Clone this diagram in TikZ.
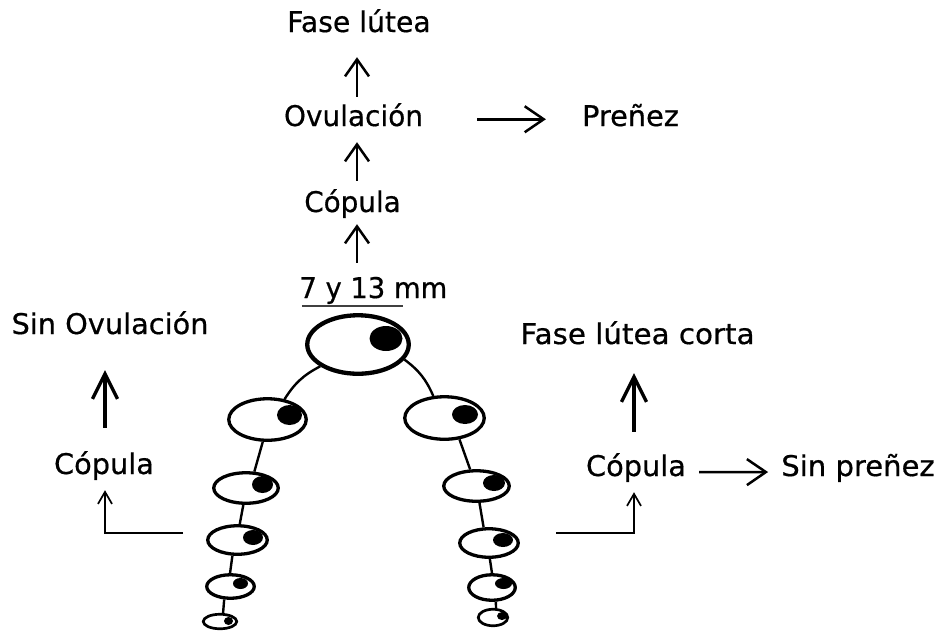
\documentclass[tikz,border=0pt]{standalone}
\usepackage{fontspec}
\setmainfont{DejaVu Sans}
\newfontfamily\lblfont{DejaVu Sans}[FakeBold=0.6]
\usetikzlibrary{shapes.geometric,arrows.meta}
\begin{document}
\begin{tikzpicture}[x=1pt,y=-1pt,
  lbl/.style={inner sep=0pt, anchor=base, text height=20.25pt, text depth=6.75pt,
              font=\lblfont\fontsize{28.5}{34}\selectfont},
  fol/.style={ellipse, draw, line width=3.3pt, fill=white, inner sep=0pt},
  bigfol/.style={fol, line width=4.3pt},
  dot/.style={ellipse, fill=black, inner sep=0pt},
  link/.style={line width=2.4pt},
  arr/.style={-{Straight Barb[length=17pt,width=24pt]}, line width=2.5pt},
  harr/.style={-{Straight Barb[length=19pt,width=26pt]}, line width=2.5pt},
  bigarr/.style={-{Straight Barb[length=25pt,width=25pt]}, line width=3.3pt},
  thinarr/.style={-{Straight Barb[length=12pt,width=14pt]}, line width=1.7pt},
  ul/.style={line width=2.6pt, black!75}]
\path[use as bounding box] (0,0) rectangle (941,633);

% ---- texts ----
\node[lbl] (fase)  at (359,32)    {\scalebox{0.99}[1]{Fase lútea}};
\node[lbl] (ovul)  at (353.5,126) {\scalebox{0.98}[1]{Ovulación}};
\node[lbl] (pren)  at (630.5,126) {\scalebox{1.01}[1]{Preñez}};
\node[lbl] (copC)  at (352.5,212) {\scalebox{0.975}[1]{Cópula}};
\node[lbl] (mm)    at (373.4,298) {\scalebox{0.96}[1]{7 y 13 mm}};
\node[lbl] (sinov) at (110,334)   {\scalebox{1.01}[1]{Sin Ovulación}};
\node[lbl] (copL)  at (104,474)   {\scalebox{1.01}[1]{Cópula}};
\node[lbl] (flc)   at (637.5,344) {\scalebox{1.03}[1]{Fase lútea corta}};
\node[lbl] (copR)  at (636,476)   {\scalebox{1.01}[1]{Cópula}};
\node[lbl] (sinp)  at (858,476)   {\scalebox{1.02}[1]{Sin preñez}};

% underline of the size range
\draw[ul] (mm.base west) ++(2.6,8) -- ++(101,0);

% ---- follicles ----
\node[bigfol, minimum width=101.5pt, minimum height=58.5pt] (big) at (358,344.5) {};
\node[fol, minimum width=77.5pt, minimum height=41.5pt] (L2) at (267.5,419.5) {};
\node[fol, minimum width=64.5pt, minimum height=30.5pt] (L3) at (246,488) {};
\node[fol, minimum width=59.5pt, minimum height=28.5pt] (L4) at (237.5,540) {};
\node[fol, minimum width=47.5pt, minimum height=23.5pt] (L5) at (230.5,586.5) {};
\node[fol, line width=2.7pt, minimum width=33.5pt, minimum height=14.5pt] (L6) at (220,621.5) {};
\node[fol, minimum width=79.5pt, minimum height=42.5pt] (R2) at (444.5,418) {};
\node[fol, minimum width=65.5pt, minimum height=30.5pt] (R3) at (476.5,486) {};
\node[fol, minimum width=58.5pt, minimum height=28.5pt] (R4) at (489,543) {};
\node[fol, minimum width=46.5pt, minimum height=25.5pt] (R5) at (492,587.5) {};
\node[fol, line width=2.7pt, minimum width=29.5pt, minimum height=16.5pt] (R6) at (493,617.5) {};

% oocytes
\node[dot, minimum width=33pt, minimum height=25pt] (dbig) at (386,338.5) {};
\node[dot, minimum width=25pt, minimum height=20pt] (dL2) at (289.5,415) {};
\node[dot, minimum width=21pt, minimum height=17pt] (dL3) at (262.5,484.5) {};
\node[dot, minimum width=20pt, minimum height=15pt] (dL4) at (253,537.5) {};
\node[dot, minimum width=15pt, minimum height=11pt] (dL5) at (240.5,583.5) {};
\node[dot, minimum width=9pt,  minimum height=8pt]  (dL6) at (228.5,621) {};
\node[dot, minimum width=26pt, minimum height=19pt] (dR2) at (465,414.5) {};
\node[dot, minimum width=22pt, minimum height=16pt] (dR3) at (494,483) {};
\node[dot, minimum width=20pt, minimum height=14pt] (dR4) at (503,540) {};
\node[dot, minimum width=17pt, minimum height=11pt] (dR5) at (503.5,583.5) {};
\node[dot, minimum width=10pt, minimum height=8pt]  (dR6) at (502,616) {};

% ---- links between follicles ----
\draw[link] (big.210) to[bend right=15] (L2.50);
\draw[link] (L2.258) -- (L3.63);
\draw[link] (L3.261) -- (L4.82);
\draw[link] (L4.252) -- (L5.92);
\draw[link] (L5.244) -- (L6.70);
\draw[link] (big.342) to[bend left=15] (R2.117);
\draw[link] (R2.305) -- (R3.111);
\draw[link] (R3.280) -- (R4.109);
\draw[link] (R4.273) -- (R5.90);
\draw[link] (R5.285) -- (R6.72);

% ---- arrows ----
\coordinate (colC) at (357,0);
\coordinate (colL) at (105,0);
\coordinate (colR) at (634,0);
\draw[arr, shorten <=8.75pt, shorten >=18.25pt] (ovul.north -| colC) -- (fase.south -| colC);
\draw[arr, shorten <=10.75pt, shorten >=9.25pt] (copC.north -| colC) -- (ovul.south -| colC);
\draw[arr, shorten <=14.75pt, shorten >=5.25pt] (mm.north -| colC) -- (copC.south -| colC);
\draw[harr, shorten <=54pt, shorten >=36pt] (ovul.east) -- (pren.west |- ovul.east);

\draw[bigarr, shorten <=25.75pt, shorten >=29.25pt] (copL.north -| colL) -- (sinov.south -| colL);
\draw[bigarr, shorten <=23.75pt, shorten >=22.25pt] (copR.north -| colR) -- (flc.south -| colR);
\draw[harr, shorten <=13pt, shorten >=13pt] (copR.east) ++(0,3) -- (sinp.west |- 0,472);

\coordinate (inL) at (183,533);
\coordinate (inR) at (556,533);
\draw[thinarr, shorten >=9.25pt] (inL) -| (copL.south -| colL);
\draw[thinarr, shorten >=9.25pt] (inR) -| (copR.south -| colR);
\end{tikzpicture}
\end{document}
